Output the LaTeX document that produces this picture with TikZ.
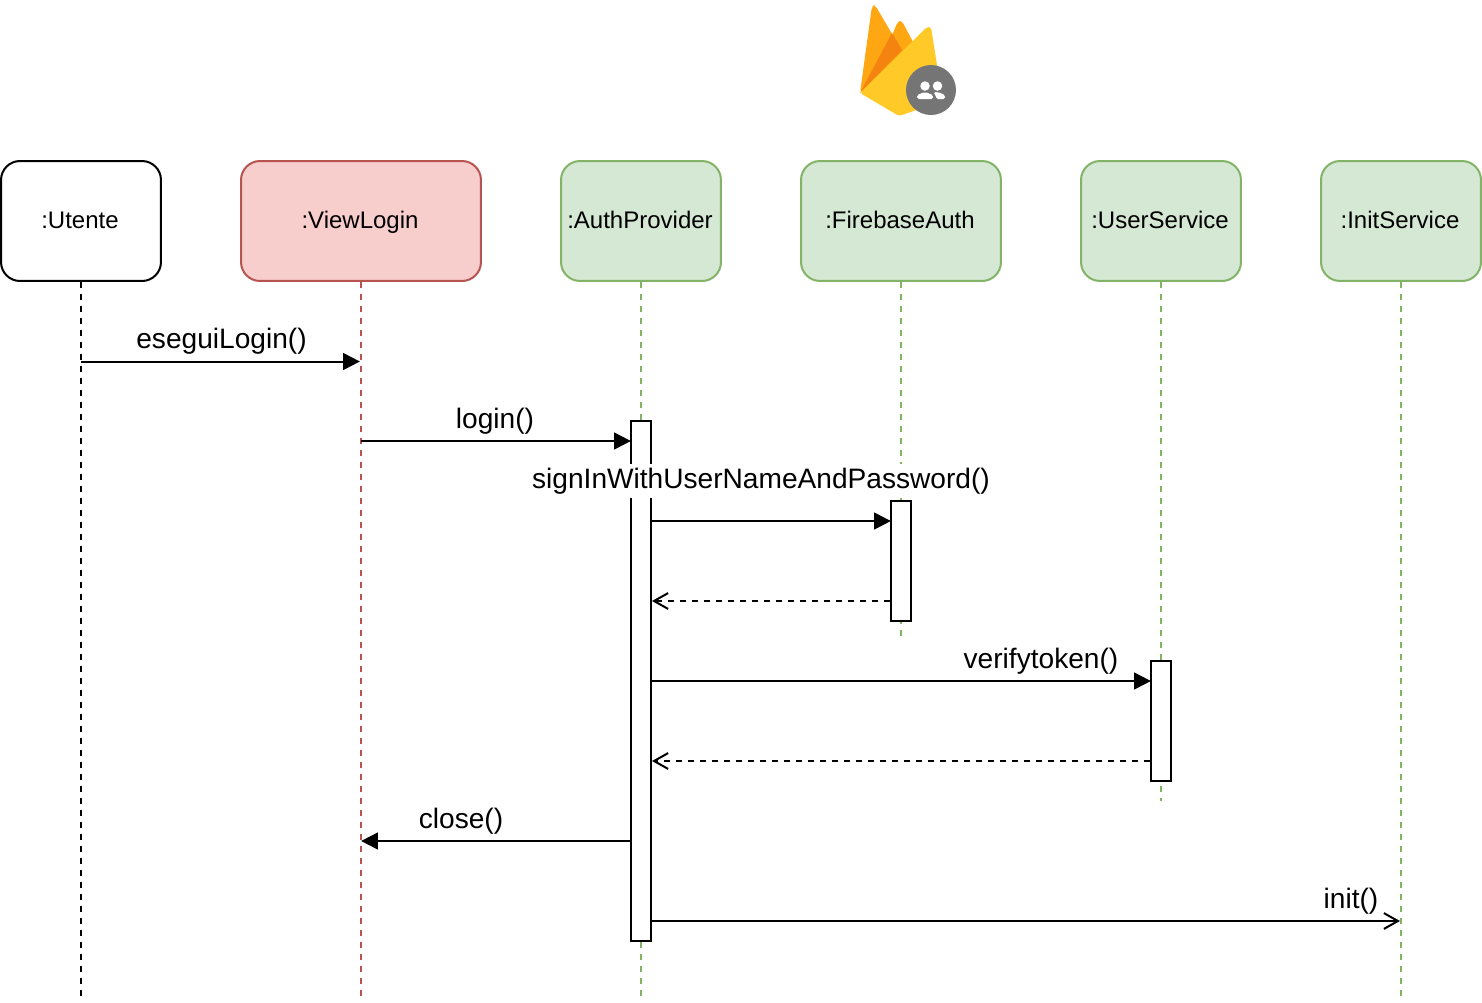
\documentclass[tikz,border=0pt]{standalone}
\usepackage{fontspec}
\setmainfont{Liberation Sans}
\usepackage{tikz}
\usetikzlibrary{arrows.meta}

\definecolor{redfill}{HTML}{F8CECC}
\definecolor{redline}{HTML}{B85450}
\definecolor{greenfill}{HTML}{D5E8D4}
\definecolor{greenline}{HTML}{82B366}
\definecolor{flameA}{HTML}{FFA712}
\definecolor{flameB}{HTML}{F4830F}
\definecolor{flameC}{HTML}{FFCA28}
\definecolor{badge}{HTML}{757575}

\begin{document}
\begin{tikzpicture}[
        x=0.02cm, y=-0.02cm,
        box/.style={draw, line width=1.14pt, rounded corners=0.38cm, minimum height=2.4cm, font=\fontsize{13.66pt}{16pt}\selectfont, inner sep=0pt, text height=11.7pt, text depth=3pt, execute at end node={\kern1.14pt}},
        redbox/.style={box, draw=redline, fill=redfill},
        greenbox/.style={box, draw=greenline, fill=greenfill},
        bar/.style={draw, line width=1.14pt, fill=white, minimum width=0.4cm, inner sep=0pt},
        life/.style={line width=1.14pt, dash pattern=on 3.415pt off 3.415pt},
        call/.style={line width=1.14pt, shorten >=-0.5pt, -{Triangle[length=9.5pt,width=9.5pt]}},
        back/.style={line width=1.14pt, dash pattern=on 3.415pt off 3.415pt, -{Straight Barb[length=8pt,width=9pt]}},
        open/.style={line width=1.14pt, -{Straight Barb[length=8pt,width=9pt]}},
        msg/.style={font=\fontsize{16pt}{18pt}\selectfont, inner sep=0pt, text height=12pt, text depth=4pt}]

        \useasboundingbox (0,0) rectangle (1482,1002);

        % header boxes
        \node[box, minimum width=3.2cm] (Utente) at (81,221) {:Utente};
        \node[redbox, minimum width=4.8cm] (ViewLogin) at (361,221) {:ViewLogin};
        \node[greenbox, minimum width=3.2cm] (AuthProvider) at (641,221) {:AuthProvider};
        \node[greenbox, minimum width=4cm] (FirebaseAuth) at (901,221) {:FirebaseAuth};
        \node[greenbox, minimum width=3.2cm] (UserService) at (1161,221) {:UserService};
        \node[greenbox, minimum width=3.2cm] (InitService) at (1401,221) {:InitService};

        % lifeline ends
        \coordinate (UtenteEnd) at (81,996);
        \coordinate (ViewLoginEnd) at (361,996);
        \coordinate (AuthEnd) at (641,996);
        \coordinate (FirebaseEnd) at (901,636);
        \coordinate (UserEnd) at (1161,801);
        \coordinate (InitEnd) at (1401,996);

        \draw[life] (Utente.south) -- (UtenteEnd);
        \draw[life, redline] (ViewLogin.south) -- (ViewLoginEnd);
        \draw[life, greenline] (AuthProvider.south) -- (AuthEnd);
        \draw[life, greenline] (FirebaseAuth.south) -- (FirebaseEnd);
        \draw[life, greenline] (UserService.south) -- (UserEnd);
        \draw[life, greenline] (InitService.south) -- (InitEnd);

        % activation bars
        \node[bar, minimum height=10.4cm] (AuthBar) at (641,681) {};
        \node[bar, minimum height=2.4cm] (FirebaseBar) at (901,561) {};
        \node[bar, minimum height=2.4cm] (UserBar) at (1161,721) {};

        % message ends
        \coordinate (UtenteM) at (81,361.5);
        \coordinate (ViewM) at (359,361.5);
        \coordinate (ViewL) at (361,441);
        \coordinate (ViewC) at (362,841);
        \coordinate (InitM) at (1400,921);

        \draw[call] (UtenteM) -- (ViewM);
        \draw[call] (ViewL) -- (AuthBar.west |- ViewL);
        \draw[call] (AuthBar.east |- 0,521) -- (FirebaseBar.west |- 0,521);
        \draw[back] (FirebaseBar.west |- 0,601) -- (AuthBar.east |- 0,601);
        \draw[call] (AuthBar.east |- 0,681) -- (UserBar.west |- 0,681);
        \draw[back] (UserBar.west |- 0,761) -- (AuthBar.east |- 0,761);
        \draw[call] (AuthBar.west |- ViewC) -- (ViewC);
        \draw[open] (AuthBar.east |- InitM) -- (InitM);

        % message labels
        \node[msg] (eseguiLogin) at (221.5,341) {eseguiLogin()};
        \node[msg] (login) at (495,421) {login()};
        \node[msg, fill=white, minimum height=0.68cm] (signIn) at (761,481) {signInWithUserNameAndPassword()};
        \node[msg] (verifytoken) at (1041,661) {verifytoken()};
        \node[msg] (close) at (461,821) {close()};
        \node[msg] (init) at (1351,901) {init()};

        % firebase icon
        \fill[flameA, rounded corners=2pt] (860,93) -- (872,6) -- (875,5) -- (898,44) -- (900,70) -- cycle;
        \fill[flameA, rounded corners=2pt] (886,50) -- (898,21) -- (902,21) -- (914,44) -- (900,70) -- cycle;
        \fill[flameB] (860,93) -- (892,33) -- (902,50) -- cycle;
        \fill[flameC, rounded corners=1.5pt] (860,93) -- (927,27) -- (931,27) -- (937,65) -- (946,100) -- (899,116) -- cycle;
        \fill[badge] (931,90) circle (0.5cm);
        \fill[white] (925,86) circle (0.095cm);
        \fill[white] (937.5,86) circle (0.095cm);
        \fill[white, rounded corners=1pt] (917,99) -- (917,95) -- (925,92) -- (933,95) -- (933,99) -- cycle;
        \fill[white, rounded corners=1pt] (936,99) -- (936,95) -- (933,92.5) -- (938,92) -- (945,95) -- (945,99) -- cycle;

    \end{tikzpicture}
\end{document}
